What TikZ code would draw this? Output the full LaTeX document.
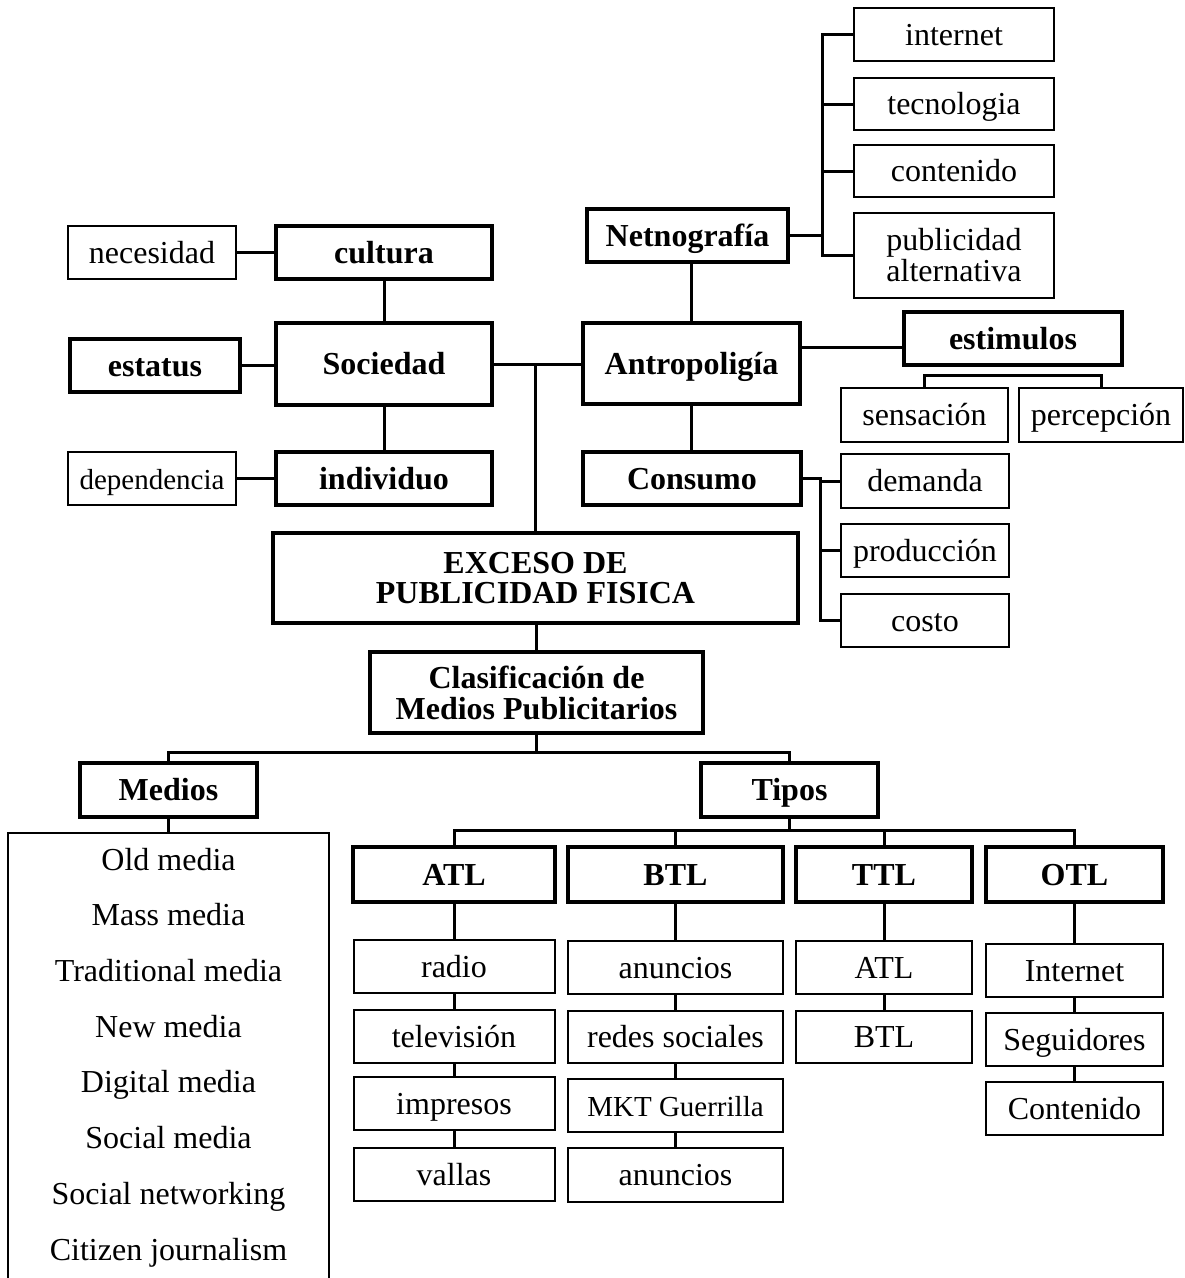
\documentclass[tikz,border=0pt]{standalone}
\usepackage{fontspec}
\setmainfont{Liberation Serif}
\begin{document}
\begin{tikzpicture}[x=1pt,y=-1pt,
  every node/.style={inner sep=0pt, align=center},
  lbox/.style={draw, line width=2pt, font=\fontsize{32}{31}\selectfont},
  bbox/.style={draw, line width=3.5pt, font=\fontsize{32}{31}\selectfont\bfseries},
  one/.style={text height=21pt, text depth=0pt},
  wh/.style 2 args={minimum width=#1pt, minimum height=#2pt},
  smalltext/.style={font=\fontsize{29}{31}\selectfont},
  link/.style={line width=3pt}]
\useasboundingbox (0,0) rectangle (1185,1278);
\clip (0,0) rectangle (1185,1278);

% --- Sociedad branch
\node[lbox,one,wh={168}{53}] (nec) at (152,252.5) {necesidad};
\node[bbox,one,wh={216}{53}] (cult) at (384,252.5) {cultura};
\node[bbox,one,wh={170}{53}] (estat) at (155,365.5) {estatus};
\node[bbox,one,wh={216}{82}] (soc) at (384,364) {Sociedad};
\node[lbox,one,smalltext,wh={168}{53}] (dep) at (152,478.5) {dependencia};
\node[bbox,one,wh={216}{53}] (indiv) at (384,478.5) {individuo};

% --- Antropología branch
\node[bbox,one,wh={201}{53}] (netno) at (687.5,235.5) {Netnografía};
\node[lbox,one,wh={200}{53}] (inter) at (954,34.5) {internet};
\node[lbox,one,wh={200}{52}] (tecno) at (954,104) {tecnologia};
\node[lbox,one,wh={200}{52}] (conte) at (954,171) {contenido};
\node[lbox,wh={200}{85}] (pubalt) at (954,255.5) {publicidad\\alternativa};
\node[bbox,one,wh={217}{81}] (antro) at (691.5,363.5) {Antropoligía};
\node[bbox,one,wh={218}{53}] (estim) at (1013,338.5) {estimulos};
\node[lbox,one,wh={167}{54}] (sens) at (924.5,415) {sensación};
\node[lbox,one,wh={164}{54}] (perc) at (1101,415) {percepción};
\node[bbox,one,wh={218}{53}] (cons) at (692,478.5) {Consumo};
\node[lbox,one,wh={168}{54}] (dem) at (925,481) {demanda};
\node[lbox,one,wh={168}{53}] (prod) at (925,550.5) {producción};
\node[lbox,one,wh={168}{53}] (costo) at (925,620.5) {costo};

% --- centre
\node[bbox,wh={525}{90},font=\fontsize{32}{30}\selectfont\bfseries] (exc) at (535.5,578) {EXCESO DE\\PUBLICIDAD FISICA};
\node[bbox,wh={333}{81}] (clas) at (536.5,692.5) {Clasificación de\\Medios Publicitarios};

% --- Medios
\node[bbox,one,wh={177}{54}] (medios) at (168.5,790) {Medios};
\node[draw, line width=2.2pt, anchor=north, minimum width=321pt,
      text height=37pt, text depth=470pt] (lista) at (168.5,832)
  {\parbox[t]{315pt}{\centering\fontsize{32}{55.7}\selectfont
   Old media\\Mass media\\Traditional media\\New media\\Digital media\\Social media\\Social networking\\Citizen journalism}};

% --- Tipos
\node[bbox,one,wh={177}{54}] (tipos) at (789.5,790) {Tipos};
\node[bbox,one,wh={202}{55}] (atl) at (454,874.5) {ATL};
\node[bbox,one,wh={215}{55}] (btl) at (675.5,874.5) {BTL};
\node[bbox,one,wh={176}{55}] (ttl) at (884,874.5) {TTL};
\node[bbox,one,wh={177}{55}] (otl) at (1074.5,874.5) {OTL};

\node[lbox,one,wh={201}{53}] (radio) at (454,966.5) {radio};
\node[lbox,one,wh={201}{53}] (tele) at (454,1036.5) {televisión};
\node[lbox,one,wh={201}{53}] (impr) at (454,1103.5) {impresos};
\node[lbox,one,wh={201}{53}] (vallas) at (454,1174.5) {vallas};

\node[lbox,one,wh={215}{53}] (anun) at (675.5,967.5) {anuncios};
\node[lbox,one,wh={215}{52}] (redes) at (675.5,1037) {redes sociales};
\node[lbox,one,smalltext,wh={215}{53}] (mkt) at (675.5,1105.5) {MKT Guerrilla};
\node[lbox,one,wh={215}{54}] (anunb) at (675.5,1175) {anuncios};

\node[lbox,one,wh={176}{53}] (tatl) at (884,967.5) {ATL};
\node[lbox,one,wh={176}{52}] (tbtl) at (884,1037) {BTL};

\node[lbox,one,wh={177}{53}] (inet) at (1074.5,970.5) {Internet};
\node[lbox,one,wh={177}{53}] (segu) at (1074.5,1039.5) {Seguidores};
\node[lbox,one,wh={177}{53}] (contb) at (1074.5,1108.5) {Contenido};

% --- connectors
\begin{scope}[link]
\draw (nec) -- (cult);
\draw (cult) -- (soc);
\draw (estat.east) -- (estat.east -| soc.west);
\draw (soc) -- (indiv);
\draw (dep) -- (indiv);
\draw (soc.east) -- (soc.east -| antro.west);
\draw (exc.north |- soc.east) -- (exc.north);

\draw (antro.north) -- (antro.north |- netno.south);
\coordinate (nb) at (822,0);
\draw (netno.east) -- (netno.east -| nb);
\draw (inter.west) -- (inter.west -| nb) -- (pubalt.west -| nb) -- (pubalt.west);
\draw (tecno.west) -- (tecno.west -| nb);
\draw (conte.west) -- (conte.west -| nb);

\draw ([yshift=-8.5pt]estim.west) -- ([yshift=-8.5pt]estim.west -| antro.east);
\draw (sens.north) -- ++(0,-12) -| (perc.north);
\draw (antro.south) -- (antro.south |- cons.north);
\coordinate (cb) at (820,0);
\draw (cons.east) -| (costo.west -| cb) -- (costo.west);
\draw (dem.west) -- (dem.west -| cb);
\draw (prod.west) -- (prod.west -| cb);

\draw (clas.north) -- (clas.north |- exc.south);
\draw (clas.south) -- ++(0,18) coordinate (cj);
\draw (medios.north) |- (cj) -| (tipos.north);
\draw (medios) -- (lista);

\draw (tipos.south) -- ++(0,12) coordinate (tj);
\draw (atl.north) |- (tj) -| (otl.north);
\draw (btl.north) -- (btl.north |- tj);
\draw (ttl.north) -- (ttl.north |- tj);

\draw (atl) -- (radio);
\draw (radio) -- (tele);
\draw (tele) -- (impr);
\draw (impr) -- (vallas);
\draw (btl) -- (anun);
\draw (anun) -- (redes);
\draw (redes) -- (mkt);
\draw (mkt) -- (anunb);
\draw (ttl) -- (tatl);
\draw (tatl) -- (tbtl);
\draw (otl) -- (inet);
\draw (inet) -- (segu);
\draw (segu) -- (contb);
\end{scope}
\end{tikzpicture}
\end{document}
